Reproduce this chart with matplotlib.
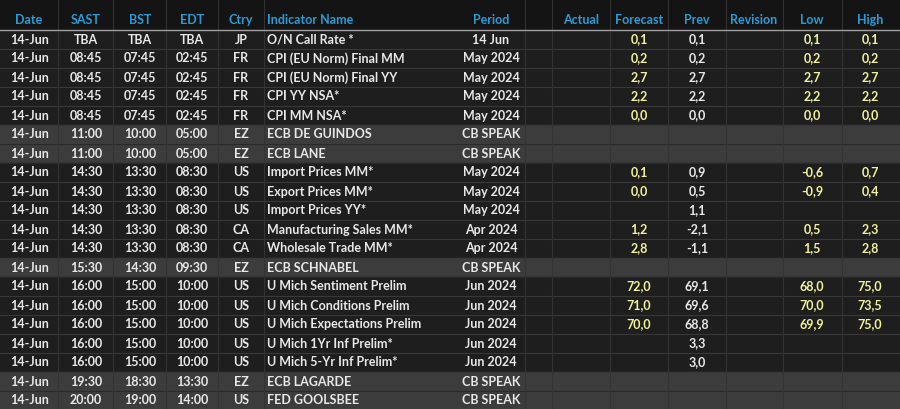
import matplotlib
matplotlib.use("Agg")
import matplotlib.pyplot as plt

headers = ["Date","SAST","BST","EDT","Ctry","Indicator Name","Period","Actual","Forecast","Prev","Revision","Low","High"]
dates = ["14-Jun"]*20
sast = ["TBA","08:45","08:45","08:45","08:45","11:00","11:00","14:30","14:30","14:30","14:30","14:30","15:30","16:00","16:00","16:00","16:00","16:00","19:30","20:00"]
bst  = ["TBA","07:45","07:45","07:45","07:45","10:00","10:00","13:30","13:30","13:30","13:30","13:30","14:30","15:00","15:00","15:00","15:00","15:00","18:30","19:00"]
edt  = ["TBA","02:45","02:45","02:45","02:45","05:00","05:00","08:30","08:30","08:30","08:30","08:30","09:30","10:00","10:00","10:00","10:00","10:00","13:30","14:00"]
ctry = ["JP","FR","FR","FR","FR","EZ","EZ","US","US","US","CA","CA","EZ","US","US","US","US","US","EZ","US"]
names = ["O/N Call Rate *","CPI (EU Norm) Final MM","CPI (EU Norm) Final YY","CPI YY NSA*","CPI MM NSA*",
         "ECB DE GUINDOS","ECB LANE","Import Prices MM*","Export Prices MM*","Import Prices YY*",
         "Manufacturing Sales MM*","Wholesale Trade MM*","ECB SCHNABEL","U Mich Sentiment Prelim",
         "U Mich Conditions Prelim","U Mich Expectations Prelim","U Mich 1Yr Inf Prelim*","U Mich 5-Yr Inf Prelim*",
         "ECB LAGARDE","FED GOOLSBEE"]
period = ["14 Jun","May 2024","May 2024","May 2024","May 2024","CB SPEAK","CB SPEAK","May 2024","May 2024","May 2024",
          "Apr 2024","Apr 2024","CB SPEAK","Jun 2024","Jun 2024","Jun 2024","Jun 2024","Jun 2024","CB SPEAK","CB SPEAK"]
actual = [""]*20
forecast = ["0,1","0,2","2,7","2,2","0,0","","","0,1","0,0","","1,2","2,8","","72,0","71,0","70,0","","","",""]
prev = ["0,1","0,2","2,7","2,2","0,0","","","0,9","0,5","1,1","-2,1","-1,1","","69,1","69,6","68,8","3,3","3,0","",""]
revision = [""]*20
low = ["0,1","0,2","2,7","2,2","0,0","","","-0,6","-0,9","","0,5","1,5","","68,0","70,0","69,9","","","",""]
high = ["0,1","0,2","2,7","2,2","0,0","","","0,7","0,4","","2,3","2,8","","75,0","73,5","75,0","","","",""]
speak = [p == "CB SPEAK" for p in period]

cols = [dates,sast,bst,edt,ctry,names,period,actual,forecast,prev,revision,low,high]
centers_x = [30,86,140,192,241,None,491,None,639,697,None,812,870]
hdr_x = [29,86,140,192,241,267,491,581,639,697,754,812,870]
colors = ["#e8e8e8"]*7 + ["#e8e8e8","#f2f29a","#e8e8e8","#e8e8e8","#f2f29a","#f2f29a"]

fig = plt.figure(figsize=(9,4.09), dpi=100)
ax = fig.add_axes([0,0,1,1])
ax.set_xlim(0,900); ax.set_ylim(409,0); ax.axis("off")
fig.patch.set_facecolor("#1c1c1c")
ax.add_patch(plt.Rectangle((0,0),900,29,color="#141414",zorder=0))
row_h = 19; y0 = 30
for i in range(20):
    top = y0 + i*row_h
    ax.add_patch(plt.Rectangle((0,top),900,row_h,color="#3c3c3c" if speak[i] else "#1e1e1e",zorder=0))
    ax.plot([0,900],[top+row_h,top+row_h],color="#383838" if not speak[i] else "#2a2a2a",lw=0.8,zorder=1)
for x in [58,113,166,218,264,525,552,610,668,726,783,842]:
    ax.plot([x,x],[0,409],color="#333333",lw=0.8,zorder=1)
ax.plot([0,900],[29.5,29.5],color="#a0a0a0",lw=1,zorder=2)
fp = dict(family="Lato", fontweight="bold", fontsize=9)
for j,h in enumerate(headers):
    ha = "left" if j==5 else "center"
    ax.text(hdr_x[j],20,h,color="#2b9bd6",ha=ha,va="center",**fp)
for i in range(20):
    yc = y0 + i*row_h + row_h/2
    for j,col in enumerate(cols):
        t = col[i]
        if not t: continue
        if j==5:
            ax.text(267,yc,t,color="#e8e8e8",ha="left",va="center",**fp)
        else:
            ax.text(centers_x[j],yc,t,color=colors[j],ha="center",va="center",**fp)
fig.savefig("out.png",dpi=100,facecolor=fig.get_facecolor())
